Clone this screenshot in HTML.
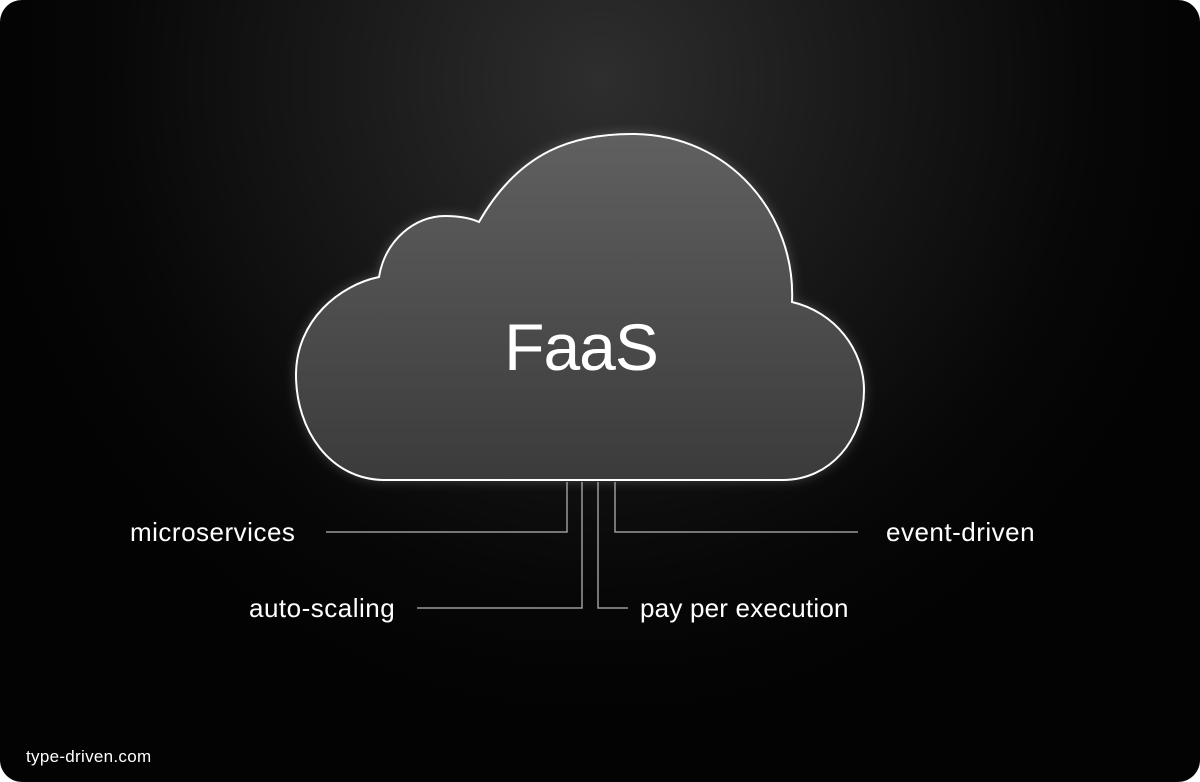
<!DOCTYPE html>
<html><head><meta charset="utf-8"><style>
html,body{margin:0;padding:0;background:#fff;}
.wrap{position:relative;width:1200px;height:782px;border-radius:22px;overflow:hidden;
background:radial-gradient(ellipse 620px 640px at 600px 80px,#2e2e2e 0%,#1a1a1a 40%,#070707 80%,#030303 100%);}
svg{position:absolute;left:0;top:0}
text{font-family:"Liberation Sans",sans-serif;fill:#fff}
</style></head><body><div class="wrap">
<svg width="1200" height="782" viewBox="0 0 1200 782">
<defs>
<linearGradient id="g" x1="0" y1="0" x2="0" y2="1">
<stop offset="0" stop-color="#606060"/><stop offset="1" stop-color="#3b3b3b"/>
</linearGradient>
<filter id="glow" x="-20%" y="-20%" width="140%" height="140%"><feGaussianBlur stdDeviation="6"/></filter>
</defs>
<path d="M385,480 C330,480 296,430 296,375 C296,320 340,285 379,277 C385,240 415,216 445,216 C460,216 470,218 479,222 C520,150 575,134 632,134 C730,134 796,215 792,302 C835,312 864,350 864,390 C864,440 830,480 783,480 Z" fill="#bbb" opacity="0.35" filter="url(#glow)"/>
<path d="M385,480 C330,480 296,430 296,375 C296,320 340,285 379,277 C385,240 415,216 445,216 C460,216 470,218 479,222 C520,150 575,134 632,134 C730,134 796,215 792,302 C835,312 864,350 864,390 C864,440 830,480 783,480 Z" fill="url(#g)" stroke="#fff" stroke-width="2"/>
<text x="581" y="370" font-size="66" letter-spacing="-1" text-anchor="middle">FaaS</text>
<g stroke="#9a9a9a" stroke-width="1.5" fill="none">
<polyline points="326,532 567,532 567,482"/>
<polyline points="858,532 615,532 615,482"/>
<polyline points="417,608 582,608 582,482"/>
<polyline points="628,608 598,608 598,482"/>
</g>
<g font-size="26" letter-spacing="0.5">
<text x="130" y="541">microservices</text>
<text x="886" y="541">event-driven</text>
<text x="249" y="617">auto-scaling</text>
<text x="640" y="617" letter-spacing="0.2">pay per execution</text>
</g>
<text x="26" y="762" font-size="17" letter-spacing="0.3">type-driven.com</text>
</svg>
</div></body></html>
